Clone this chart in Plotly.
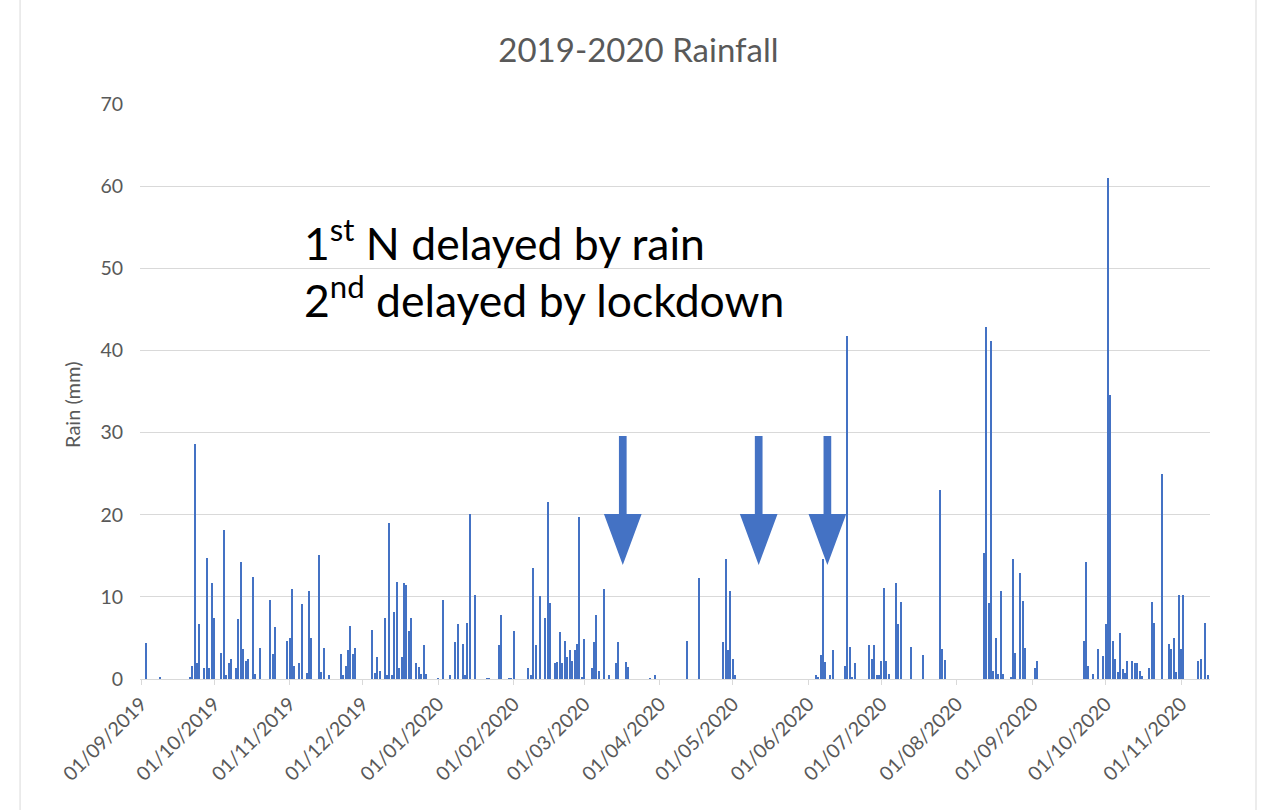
import pandas as pd
import plotly.graph_objects as go

# Daily rainfall, Sep 2019 - Nov 2020 (mm)
rain_dates = [
    "2019-09-03", "2019-09-09", "2019-09-21", "2019-09-22", "2019-09-23", "2019-09-24",
    "2019-09-25", "2019-09-27", "2019-09-28", "2019-09-29", "2019-09-30",
    "2019-10-01", "2019-10-04", "2019-10-05", "2019-10-06", "2019-10-07", "2019-10-08",
    "2019-10-10", "2019-10-11", "2019-10-12", "2019-10-13", "2019-10-14", "2019-10-15",
    "2019-10-17", "2019-10-18", "2019-10-20", "2019-10-24", "2019-10-25", "2019-10-26",
    "2019-10-31",
    "2019-11-01", "2019-11-02", "2019-11-03", "2019-11-05", "2019-11-06", "2019-11-08",
    "2019-11-09", "2019-11-10", "2019-11-13", "2019-11-14", "2019-11-15", "2019-11-17",
    "2019-11-22", "2019-11-23", "2019-11-24", "2019-11-25", "2019-11-26", "2019-11-27",
    "2019-11-28",
    "2019-12-05", "2019-12-06", "2019-12-07", "2019-12-08", "2019-12-10", "2019-12-11",
    "2019-12-12", "2019-12-13", "2019-12-14", "2019-12-15", "2019-12-16", "2019-12-17",
    "2019-12-18", "2019-12-19", "2019-12-20", "2019-12-21", "2019-12-23", "2019-12-24",
    "2019-12-25", "2019-12-26", "2019-12-27",
    "2020-01-01", "2020-01-03", "2020-01-06", "2020-01-08", "2020-01-09", "2020-01-11",
    "2020-01-12", "2020-01-13", "2020-01-14", "2020-01-16", "2020-01-21", "2020-01-22",
    "2020-01-26", "2020-01-27", "2020-01-30", "2020-01-31",
    "2020-02-01", "2020-02-07", "2020-02-08", "2020-02-09", "2020-02-10", "2020-02-12",
    "2020-02-14", "2020-02-15", "2020-02-16", "2020-02-18", "2020-02-19", "2020-02-20",
    "2020-02-21", "2020-02-22", "2020-02-23", "2020-02-24", "2020-02-25", "2020-02-26",
    "2020-02-27", "2020-02-28", "2020-02-29",
    "2020-03-01", "2020-03-04", "2020-03-05", "2020-03-06", "2020-03-07", "2020-03-09",
    "2020-03-11", "2020-03-14", "2020-03-15", "2020-03-18", "2020-03-19", "2020-03-28",
    "2020-03-30",
    "2020-04-12", "2020-04-17", "2020-04-27", "2020-04-28", "2020-04-29", "2020-04-30",
    "2020-05-01", "2020-05-02",
    "2020-06-04", "2020-06-05", "2020-06-06", "2020-06-07", "2020-06-08", "2020-06-10",
    "2020-06-11", "2020-06-16", "2020-06-17", "2020-06-18", "2020-06-19", "2020-06-20",
    "2020-06-26", "2020-06-27", "2020-06-28", "2020-06-29", "2020-06-30",
    "2020-07-01", "2020-07-02", "2020-07-03", "2020-07-04", "2020-07-07", "2020-07-08",
    "2020-07-09", "2020-07-13", "2020-07-18", "2020-07-25", "2020-07-26", "2020-07-27",
    "2020-08-12", "2020-08-13", "2020-08-14", "2020-08-15", "2020-08-16", "2020-08-17",
    "2020-08-18", "2020-08-19", "2020-08-20", "2020-08-23", "2020-08-24", "2020-08-25",
    "2020-08-27", "2020-08-28", "2020-08-29",
    "2020-09-02", "2020-09-03", "2020-09-22", "2020-09-23", "2020-09-24", "2020-09-26",
    "2020-09-28", "2020-09-30",
    "2020-10-01", "2020-10-02", "2020-10-03", "2020-10-04", "2020-10-05", "2020-10-06",
    "2020-10-07", "2020-10-08", "2020-10-09", "2020-10-10", "2020-10-12", "2020-10-13",
    "2020-10-14", "2020-10-15", "2020-10-16", "2020-10-19", "2020-10-20", "2020-10-21",
    "2020-10-24", "2020-10-27", "2020-10-28", "2020-10-29", "2020-10-30", "2020-10-31",
    "2020-11-01", "2020-11-02", "2020-11-08", "2020-11-09", "2020-11-11", "2020-11-12",
]

rain_mm = [
    4.4, 0.2, 0.2, 1.6, 28.6, 1.9,
    6.65, 1.4, 14.7, 1.4, 11.7,
    7.4, 3.2, 18.1, 0.45, 2.0, 2.4,
    1.4, 7.3, 14.3, 3.6, 2.2, 2.4,
    12.4, 0.65, 3.8, 9.6, 3.0, 6.3,
    4.6,
    5.0, 10.9, 1.55, 1.9, 9.1, 0.7,
    10.7, 5.0, 15.1, 0.8, 3.8, 0.45,
    3.1, 0.5, 1.6, 3.5, 6.5, 3.1,
    3.8,
    6.0, 0.7, 2.7, 1.0, 7.4, 0.5,
    19.0, 0.5, 8.2, 11.8, 1.4, 2.7,
    11.7, 11.5, 5.8, 7.4, 1.9, 1.5,
    0.65, 4.1, 0.65,
    0.1, 9.6, 0.5, 4.5, 6.65, 4.3,
    0.5, 6.8, 20.1, 10.2, 0.1, 0.1,
    4.1, 7.75, 0.1, 0.1,
    5.8, 1.3, 0.45, 13.55, 4.1, 10.1,
    7.4, 21.6, 9.3, 1.9, 2.1, 5.7,
    1.9, 4.6, 2.65, 3.5, 2.2, 3.5,
    4.3, 19.7, 0.15,
    4.9, 1.3, 4.5, 7.75, 1.0, 10.9,
    0.5, 1.9, 4.5, 2.1, 1.5, 0.1,
    0.5,
    4.6, 12.3, 4.5, 14.65, 3.5, 10.7,
    2.4, 0.45,
    0.45, 0.2, 2.9, 14.6, 2.1, 0.5,
    3.5, 1.6, 41.75, 3.85, 0.15, 1.95,
    4.15, 2.45, 4.15, 0.5, 0.5,
    2.25, 11.1, 2.15, 0.55, 11.7, 6.7,
    9.35, 3.85, 2.9, 23.0, 3.65, 2.3,
    15.4, 42.8, 9.2, 41.2, 0.95, 5.0,
    0.6, 10.7, 0.6, 0.15, 14.6, 3.2,
    12.9, 9.5, 3.75,
    1.4, 2.2, 4.6, 14.2, 1.6, 0.65,
    3.6, 2.85,
    6.65, 61.0, 34.6, 4.6, 2.4, 0.85,
    5.65, 1.2, 0.75, 2.2, 2.2, 2.0,
    1.9, 0.95, 0.4, 1.4, 9.4, 6.8,
    25.0, 4.3, 3.6, 5.0, 0.8, 10.2,
    3.6, 10.2, 2.2, 2.4, 6.8, 0.5,
]

# Positions of the three event arrows (days after 01/09/2019)
arrow_days = [197.8, 253.6, 281.8]

BLUE = "#4472C4"
GREY_TEXT = "#595959"
GRID = "#D9D9D9"
FONT = "Lato"

fig = go.Figure()
fig.add_trace(go.Bar(
    x=pd.to_datetime(rain_dates),
    y=rain_mm,
    width=0.42 * 86400000,
    marker=dict(color=BLUE, line=dict(width=0)),
    hovertemplate="%{x|%d/%m/%Y}: %{y} mm<extra></extra>",
))

start = pd.Timestamp("2019-09-01")


def dstr(days):
    return (start + pd.Timedelta(days=days)).strftime("%Y-%m-%d_%H:%M:%S")


shapes = []
for d in arrow_days:
    sw, hw = 1.58, 7.74
    top, base, tip = 29.58, 20.09, 13.88
    path = (
        f"M {dstr(d - sw)},{top} L {dstr(d + sw)},{top} L {dstr(d + sw)},{base} "
        f"L {dstr(d + hw)},{base} L {dstr(d)},{tip} L {dstr(d - hw)},{base} "
        f"L {dstr(d - sw)},{base} Z"
    )
    shapes.append(dict(type="path", path=path, xref="x", yref="y",
                       fillcolor=BLUE, line=dict(width=0), layer="above"))

# chart-area frame edges
for xp in (-0.1121, 1.0430):
    shapes.append(dict(type="line", xref="paper", yref="paper",
                       x0=xp, x1=xp, y0=-0.25, y1=1.2,
                       line=dict(color=GRID, width=1)))

annotations = [
    dict(text="1<sup>st</sup> N delayed by rain", x=0.1514, y=0.764,
         xref="paper", yref="paper", xanchor="left", yanchor="middle",
         showarrow=False, font=dict(family=FONT, size=44.5, color="#000000")),
    dict(text="2<sup>nd</sup> delayed by lockdown", x=0.1514, y=0.665,
         xref="paper", yref="paper", xanchor="left", yanchor="middle",
         showarrow=False, font=dict(family=FONT, size=44.5, color="#000000")),
    dict(text="Rain (mm)", x=-0.0636, y=0.4765, xref="paper", yref="paper",
         xanchor="center", yanchor="middle", textangle=-90, showarrow=False,
         font=dict(family=FONT, size=20, color=GREY_TEXT)),
]

fig.update_layout(
    width=1268, height=810,
    margin=dict(l=140, r=58, t=104, b=131, autoexpand=False),
    paper_bgcolor="white", plot_bgcolor="white",
    showlegend=False,
    bargap=0,
    font=dict(family=FONT, color=GREY_TEXT),
    title=dict(text="2019-2020 Rainfall", x=0.5035, xref="container",
               y=0.938, yref="container", xanchor="center", yanchor="middle",
               font=dict(family=FONT, size=33, color=GREY_TEXT)),
    xaxis=dict(
        type="date",
        range=["2019-08-31 14:09", "2020-11-12 21:21"],
        tick0="2019-09-01", dtick="M1", tickformat="%d/%m/%Y",
        tickangle=-45, ticks="outside", ticklen=5, tickcolor=GRID,
        showline=True, linecolor=GRID, linewidth=1,
        showgrid=False, zeroline=False,
        tickfont=dict(family=FONT, size=19.5, color=GREY_TEXT),
        automargin=False,
    ),
    yaxis=dict(
        range=[0, 70], dtick=10, tick0=0,
        showgrid=True, gridcolor=GRID, gridwidth=1,
        showline=False, zeroline=False, ticks="",
        ticklabelstandoff=16,
        tickfont=dict(family=FONT, size=19.5, color=GREY_TEXT),
        automargin=False,
    ),
    shapes=shapes,
    annotations=annotations,
)

fig.write_html("out.html")
